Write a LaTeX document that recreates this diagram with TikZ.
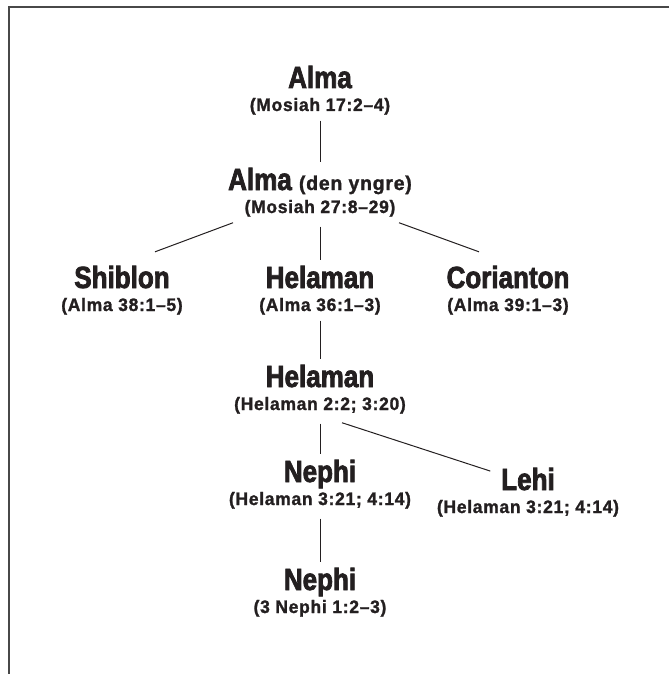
\documentclass[tikz,border=0pt]{standalone}
\usepackage{fontspec}
\setmainfont{Liberation Sans}
\newfontfamily\whofont{Liberation Sans}[FakeStretch=0.85,FakeBold=2.4]
\newfontfamily\reffont{Liberation Sans}[LetterSpace=4,FakeStretch=0.97,FakeBold=1.4]
\usepackage{tikz}
\usetikzlibrary{positioning}
\definecolor{inkblack}{RGB}{35,31,32}
\definecolor{framegrey}{RGB}{72,72,72}
\tikzset{
  who/.style={anchor=base,inner sep=0pt,outer sep=3pt,text=inkblack,
    font=\whofont\bfseries\fontsize{15.3}{16}\selectfont},
  src/.style={anchor=base,inner sep=0pt,outer sep=3pt,text=inkblack,
    font=\reffont\bfseries\fontsize{9}{10}\selectfont},
  link/.style={draw=inkblack,line width=0.5pt}
}

\begin{document}
\begin{tikzpicture}[x=0.5pt,y=-0.5pt]
\useasboundingbox (0,0) rectangle (669,674);
% ---------- open frame ----------
\draw[framegrey,line width=1pt] (669,7.5) -- (8.5,7.5) -- (8.5,674);
% ---------- people and their references ----------
\foreach \id/\x/\y/\who/\src in {
  alma/320/88/{Alma}/{(Mosiah 17:2–4)},
  almaj/320/190/{Alma {\reffont\fontsize{10}{11}\selectfont(den yngre)}}/{(Mosiah 27:8–29)},
  shiblon/122/288/{Shiblon}/{(Alma 38:1–5)},
  helaman/320/288/{Helaman}/{(Alma 36:1–3)},
  corianton/508/288/{Corianton}/{(Alma 39:1–3)},
  helamanj/320/387/{Helaman}/{(Helaman 2:2; 3:20)},
  nephi/320/482/{Nephi}/{(Helaman 3:21; 4:14)},
  lehi/528/490/{Lehi}/{(Helaman 3:21; 4:14)},
  nephij/320/590/{Nephi}/{(3 Nephi 1:2–3)}}{
  \node[who] (\id) at (\x,\y) {\who};
  \node[src] (\id-ref) at (\x,\y+23) {\src};
}
% ---------- lines of descent ----------
\draw[link] (alma-ref.south) -- (almaj.north);
\draw[link,shorten <=2pt] (almaj-ref.south) -- (helaman.north);
\draw[link] ([shift={(-87,0)}]almaj-ref.south) -- ([shift={(33,-8)}]shiblon.north);
\draw[link] ([shift={(79,0)}]almaj-ref.south) -- ([shift={(-29,-8)}]corianton.north);
\draw[link] (helaman-ref.south) -- (helamanj.north);
\draw[link,shorten <=2pt] (helamanj-ref.south) -- (nephi.north);
\draw[link] ([shift={(22,3)}]helamanj-ref.south) -- ([shift={(-5,-8)}]lehi.west);
\draw[link,shorten <=2pt] (nephi-ref.south) -- (nephij.north);
\end{tikzpicture}
\end{document}
